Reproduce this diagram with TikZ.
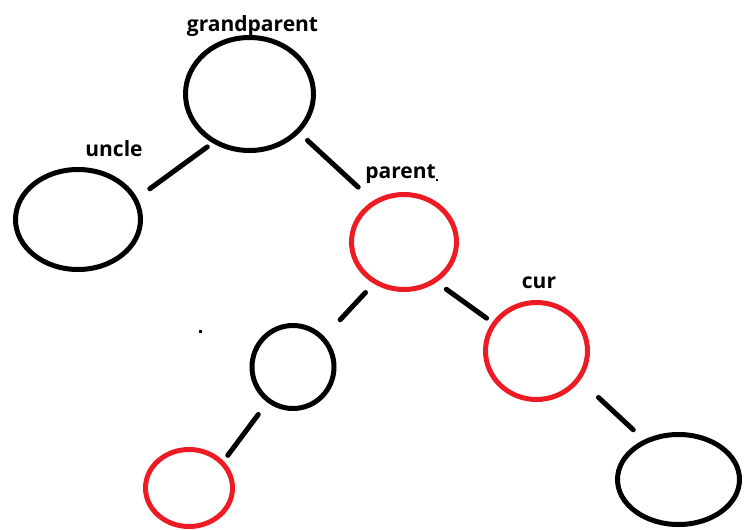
\documentclass[tikz,border=0pt]{standalone}
\usepackage{fontspec}
\setmainfont{Open Sans}
\usetikzlibrary{shapes.geometric}
\definecolor{paintred}{HTML}{ED1C24}

\begin{document}
\begin{tikzpicture}[x=1pt,y=-1pt,
  nd/.style={ellipse,draw=black,line width=5pt,inner sep=0pt},
  rednd/.style={nd,draw=paintred},
  edge/.style={line width=5pt,line cap=round},
  lbl/.style={anchor=base,font=\fontsize{21}{25}\selectfont\bfseries}]

  \useasboundingbox (0,0) rectangle (753,530);

  % tree nodes
  \node[nd,minimum width=128pt,minimum height=113pt] (gp) at (249.5,94) {};
  \node[nd,minimum width=125pt,minimum height=100pt] (uncle) at (78,219.5) {};
  \node[rednd,minimum width=105pt,minimum height=95pt] (par) at (404,242) {};
  \node[nd,minimum width=82pt,minimum height=83pt] (lc) at (293,367) {};
  \node[rednd,minimum width=102pt,minimum height=97pt] (cur) at (536.5,351) {};
  \node[rednd,minimum width=87pt,minimum height=77pt] (llc) at (189,488) {};
  \node[nd,minimum width=122pt,minimum height=90pt] (rc) at (678.5,479.5) {};

  % labels
  \node[lbl] (gplbl) at (252.5,31) {grandparent};
  \node[lbl] (unclelbl) at (114,156) {uncle};
  \node[lbl] (parlbl) at (400.5,178) {parent};
  \node[lbl] (curlbl) at (539,288) {cur};

  % edges
  \draw[edge,shorten <=6.5pt,shorten >=15.5pt] (gp.233) -- (uncle.20);
  \draw[edge,shorten <=11pt,shorten >=20pt] (gp.322.6) -- (par.127);
  \draw[edge,shorten <=12pt,shorten >=23pt] (par.234) -- (lc.44);
  \draw[edge,shorten <=12pt,shorten >=7pt] (par.309) -- (cur.147);
  \draw[edge,shorten <=15pt,shorten >=7pt] (lc.234) -- (llc.38);
  \draw[edge,shorten <=25pt,shorten >=14.5pt] (cur.326.5) -- (rc.131);

  % stray marks
  \fill (198.5,329.5) rectangle (201.5,332.5);
  \fill (436,179) rectangle (438,181);
\end{tikzpicture}
\end{document}
